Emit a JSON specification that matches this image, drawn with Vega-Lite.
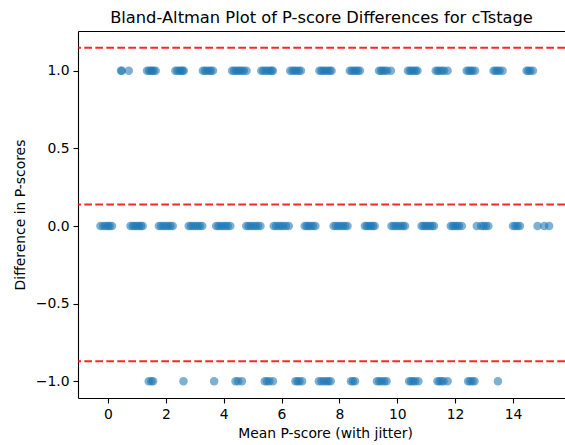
{
  "$schema": "https://vega.github.io/schema/vega-lite/v6.json",
  "width": 487,
  "height": 367,
  "autosize": {"type": "none"},
  "padding": {"left": 78, "top": 31, "right": 0, "bottom": 47},
  "background": "white",
  "title": {"text": "Bland-Altman Plot of P-score Differences for cTstage", "font": "DejaVu Sans", "fontSize": 16.3, "fontWeight": "normal", "color": "black", "anchor": "middle", "offset": 5, "dx": 0},
  "config": {
    "view": {"stroke": null},
    "axis": {"grid": false, "labelFont": "DejaVu Sans", "titleFont": "DejaVu Sans", "labelFontSize": 13.9, "titleFontSize": 13.9, "titleFontWeight": "normal", "labelColor": "black", "titleColor": "black", "domainColor": "black", "tickColor": "black", "domainWidth": 1.1, "tickWidth": 1.1, "tickSize": 5, "labelPadding": 4}
  },
  "datasets": {
    "pts": [
      {"m": 0.45, "d": 1}, {"m": 0.48, "d": 1}, {"m": 0.72, "d": 1},
      {"m": 1.35, "d": 1}, {"m": 1.42, "d": 1}, {"m": 1.48, "d": 1}, {"m": 1.53, "d": 1}, {"m": 1.58, "d": 1}, {"m": 1.65, "d": 1},
      {"m": 2.33, "d": 1}, {"m": 2.4, "d": 1}, {"m": 2.47, "d": 1}, {"m": 2.53, "d": 1}, {"m": 2.58, "d": 1}, {"m": 2.62, "d": 1},
      {"m": 3.28, "d": 1}, {"m": 3.35, "d": 1}, {"m": 3.42, "d": 1}, {"m": 3.5, "d": 1}, {"m": 3.56, "d": 1}, {"m": 3.63, "d": 1},
      {"m": 4.29, "d": 1}, {"m": 4.36, "d": 1}, {"m": 4.43, "d": 1}, {"m": 4.5, "d": 1}, {"m": 4.56, "d": 1}, {"m": 4.63, "d": 1}, {"m": 4.7, "d": 1}, {"m": 4.79, "d": 1},
      {"m": 5.3, "d": 1}, {"m": 5.37, "d": 1}, {"m": 5.45, "d": 1}, {"m": 5.52, "d": 1}, {"m": 5.6, "d": 1}, {"m": 5.66, "d": 1}, {"m": 5.7, "d": 1},
      {"m": 6.3, "d": 1}, {"m": 6.38, "d": 1}, {"m": 6.45, "d": 1}, {"m": 6.52, "d": 1}, {"m": 6.6, "d": 1}, {"m": 6.67, "d": 1},
      {"m": 7.31, "d": 1}, {"m": 7.38, "d": 1}, {"m": 7.45, "d": 1}, {"m": 7.52, "d": 1}, {"m": 7.6, "d": 1}, {"m": 7.67, "d": 1}, {"m": 7.73, "d": 1},
      {"m": 8.36, "d": 1}, {"m": 8.43, "d": 1}, {"m": 8.5, "d": 1}, {"m": 8.57, "d": 1}, {"m": 8.64, "d": 1}, {"m": 8.71, "d": 1},
      {"m": 9.37, "d": 1}, {"m": 9.44, "d": 1}, {"m": 9.5, "d": 1}, {"m": 9.57, "d": 1}, {"m": 9.65, "d": 1}, {"m": 9.78, "d": 1},
      {"m": 10.37, "d": 1}, {"m": 10.44, "d": 1}, {"m": 10.5, "d": 1}, {"m": 10.57, "d": 1}, {"m": 10.64, "d": 1}, {"m": 10.7, "d": 1},
      {"m": 11.33, "d": 1}, {"m": 11.4, "d": 1}, {"m": 11.47, "d": 1}, {"m": 11.55, "d": 1}, {"m": 11.62, "d": 1}, {"m": 11.74, "d": 1},
      {"m": 12.4, "d": 1}, {"m": 12.47, "d": 1}, {"m": 12.54, "d": 1}, {"m": 12.6, "d": 1}, {"m": 12.69, "d": 1},
      {"m": 13.33, "d": 1}, {"m": 13.4, "d": 1}, {"m": 13.47, "d": 1}, {"m": 13.54, "d": 1}, {"m": 13.64, "d": 1},
      {"m": 14.47, "d": 1}, {"m": 14.53, "d": 1}, {"m": 14.6, "d": 1}, {"m": 14.69, "d": 1},
      {"m": -0.26, "d": 0}, {"m": -0.16, "d": 0}, {"m": -0.08, "d": 0}, {"m": 0.0, "d": 0}, {"m": 0.06, "d": 0}, {"m": 0.14, "d": 0},
      {"m": 0.78, "d": 0}, {"m": 0.86, "d": 0}, {"m": 0.93, "d": 0}, {"m": 1.0, "d": 0}, {"m": 1.07, "d": 0}, {"m": 1.14, "d": 0}, {"m": 1.2, "d": 0},
      {"m": 1.76, "d": 0}, {"m": 1.84, "d": 0}, {"m": 1.92, "d": 0}, {"m": 2.0, "d": 0}, {"m": 2.08, "d": 0}, {"m": 2.16, "d": 0}, {"m": 2.24, "d": 0},
      {"m": 2.79, "d": 0}, {"m": 2.87, "d": 0}, {"m": 2.95, "d": 0}, {"m": 3.03, "d": 0}, {"m": 3.1, "d": 0}, {"m": 3.18, "d": 0}, {"m": 3.26, "d": 0},
      {"m": 3.74, "d": 0}, {"m": 3.82, "d": 0}, {"m": 3.9, "d": 0}, {"m": 3.98, "d": 0}, {"m": 4.06, "d": 0}, {"m": 4.14, "d": 0}, {"m": 4.23, "d": 0},
      {"m": 4.78, "d": 0}, {"m": 4.86, "d": 0}, {"m": 4.94, "d": 0}, {"m": 5.02, "d": 0}, {"m": 5.1, "d": 0}, {"m": 5.18, "d": 0}, {"m": 5.27, "d": 0},
      {"m": 5.73, "d": 0}, {"m": 5.81, "d": 0}, {"m": 5.9, "d": 0}, {"m": 5.98, "d": 0}, {"m": 6.06, "d": 0}, {"m": 6.15, "d": 0}, {"m": 6.25, "d": 0},
      {"m": 6.8, "d": 0}, {"m": 6.87, "d": 0}, {"m": 6.94, "d": 0}, {"m": 7.01, "d": 0}, {"m": 7.09, "d": 0}, {"m": 7.17, "d": 0},
      {"m": 7.8, "d": 0}, {"m": 7.88, "d": 0}, {"m": 7.96, "d": 0}, {"m": 8.04, "d": 0}, {"m": 8.12, "d": 0}, {"m": 8.2, "d": 0}, {"m": 8.28, "d": 0},
      {"m": 8.88, "d": 0}, {"m": 8.95, "d": 0}, {"m": 9.02, "d": 0}, {"m": 9.09, "d": 0}, {"m": 9.16, "d": 0}, {"m": 9.22, "d": 0},
      {"m": 9.8, "d": 0}, {"m": 9.88, "d": 0}, {"m": 9.96, "d": 0}, {"m": 10.04, "d": 0}, {"m": 10.12, "d": 0}, {"m": 10.2, "d": 0}, {"m": 10.27, "d": 0},
      {"m": 10.84, "d": 0}, {"m": 10.91, "d": 0}, {"m": 10.98, "d": 0}, {"m": 11.05, "d": 0}, {"m": 11.12, "d": 0}, {"m": 11.2, "d": 0}, {"m": 11.27, "d": 0},
      {"m": 11.85, "d": 0}, {"m": 11.92, "d": 0}, {"m": 11.99, "d": 0}, {"m": 12.06, "d": 0}, {"m": 12.13, "d": 0}, {"m": 12.23, "d": 0},
      {"m": 12.75, "d": 0}, {"m": 12.9, "d": 0}, {"m": 12.98, "d": 0}, {"m": 13.06, "d": 0}, {"m": 13.15, "d": 0},
      {"m": 14.0, "d": 0}, {"m": 14.08, "d": 0}, {"m": 14.16, "d": 0}, {"m": 14.24, "d": 0},
      {"m": 14.85, "d": 0}, {"m": 15.08, "d": 0}, {"m": 15.25, "d": 0},
      {"m": 1.41, "d": -1}, {"m": 1.5, "d": -1}, {"m": 1.56, "d": -1},
      {"m": 2.61, "d": -1},
      {"m": 3.67, "d": -1},
      {"m": 4.41, "d": -1}, {"m": 4.5, "d": -1}, {"m": 4.63, "d": -1},
      {"m": 5.42, "d": -1}, {"m": 5.5, "d": -1}, {"m": 5.58, "d": -1}, {"m": 5.7, "d": -1},
      {"m": 6.48, "d": -1}, {"m": 6.55, "d": -1}, {"m": 6.62, "d": -1}, {"m": 6.71, "d": -1},
      {"m": 7.29, "d": -1}, {"m": 7.38, "d": -1}, {"m": 7.46, "d": -1}, {"m": 7.55, "d": -1}, {"m": 7.62, "d": -1}, {"m": 7.7, "d": -1},
      {"m": 8.4, "d": -1}, {"m": 8.47, "d": -1}, {"m": 8.54, "d": -1},
      {"m": 9.3, "d": -1}, {"m": 9.38, "d": -1}, {"m": 9.46, "d": -1}, {"m": 9.55, "d": -1}, {"m": 9.63, "d": -1},
      {"m": 10.41, "d": -1}, {"m": 10.48, "d": -1}, {"m": 10.55, "d": -1}, {"m": 10.62, "d": -1}, {"m": 10.73, "d": -1},
      {"m": 11.39, "d": -1}, {"m": 11.46, "d": -1}, {"m": 11.53, "d": -1}, {"m": 11.6, "d": -1}, {"m": 11.74, "d": -1},
      {"m": 12.45, "d": -1}, {"m": 12.52, "d": -1}, {"m": 12.6, "d": -1}, {"m": 12.67, "d": -1},
      {"m": 13.48, "d": -1}
    ],
    "lines": [
      {"level": "upper", "value": 1.149},
      {"level": "mean", "value": 0.139},
      {"level": "lower", "value": -0.871}
    ]
  },
  "layer": [
    {
      "data": {"name": "pts"},
      "mark": {"type": "circle", "size": 72, "opacity": 0.58, "color": "#1f77b4", "clip": true},
      "encoding": {
        "x": {"field": "m", "type": "quantitative", "scale": {"domain": [-1.0355, 15.798], "nice": false, "zero": false},
              "axis": {"orient": "bottom", "values": [0, 2, 4, 6, 8, 10, 12, 14], "title": "Mean P-score (with jitter)", "titlePadding": 6, "titleX": 247}},
        "y": {"field": "d", "type": "quantitative", "scale": {"domain": [-1.1075, 1.2565], "nice": false, "zero": false},
              "axis": {"values": [-1, -0.5, 0, 0.5, 1], "format": ".1f", "title": "Difference in P-scores", "titlePadding": 8}}
      }
    },
    {
      "data": {"name": "lines"},
      "mark": {"type": "rule", "color": "#ff0000", "strokeWidth": 2, "strokeDash": [7.7, 3.3], "opacity": 0.85},
      "encoding": {
        "y": {"field": "value", "type": "quantitative"}
      }
    },
    {
      "data": {"name": "lines"},
      "mark": {"type": "point", "opacity": 0},
      "encoding": {
        "x": {"datum": 0, "type": "quantitative", "scale": {"domain": [-1.0355, 15.798], "nice": false, "zero": false},
              "axis": {"orient": "top", "labels": false, "ticks": false, "domain": true, "title": null}},
        "y": {"datum": 0, "type": "quantitative"}
      }
    }
  ]
}
